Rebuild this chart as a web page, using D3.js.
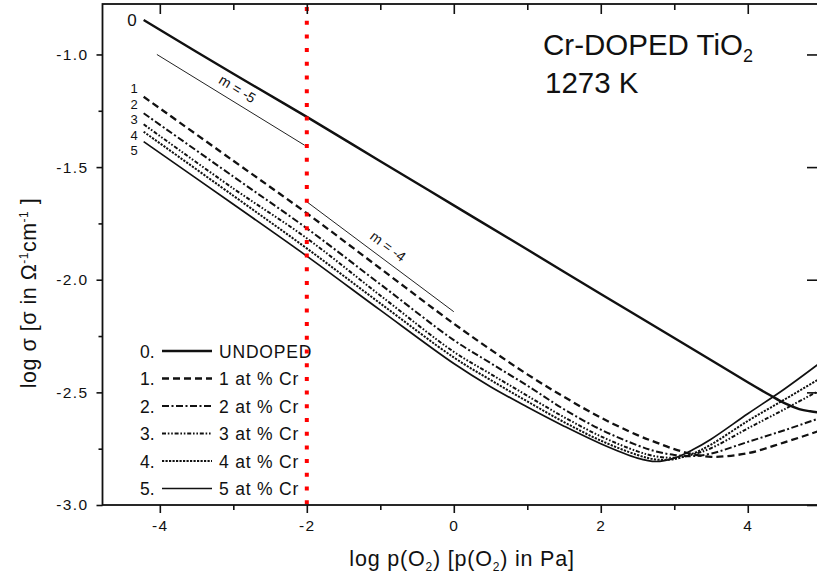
<!DOCTYPE html>
<html><head><meta charset="utf-8">
<script src="https://cdn.jsdelivr.net/npm/d3@7"></script>
<style>
html,body{margin:0;padding:0;background:#fff;}
text{font-family:"Liberation Sans",Arial,Helvetica,sans-serif;fill:#111;}
</style></head>
<body><svg id="c" width="817" height="581"></svg>
<script>
// ---- data ----
const xGrid = [-4.22, -3, -2, -1, 0, 0.5, 1, 1.5, 2, 2.5, 2.75, 3, 3.25, 3.5, 4, 4.5, 5];
const curve0X = [-4.22, -3, -2, -1, 0, 1, 2, 3, 3.6, 4.0, 4.3, 4.5, 4.7, 4.85, 5.0];
const curve0Y = [-0.847, -1.086, -1.277, -1.474, -1.670, -1.866, -2.063, -2.259, -2.376, -2.455, -2.512, -2.548, -2.574, -2.584, -2.590];
const curve1Y = [-1.188, -1.472, -1.705, -1.950, -2.195, -2.310, -2.420, -2.520, -2.612, -2.690, -2.722, -2.752, -2.774, -2.786, -2.770, -2.722, -2.668];
const curve2Y = [-1.261, -1.542, -1.772, -2.020, -2.268, -2.370, -2.470, -2.575, -2.665, -2.735, -2.762, -2.778, -2.783, -2.772, -2.720, -2.668, -2.612];
const curve3Y = [-1.310, -1.595, -1.816, -2.070, -2.320, -2.418, -2.515, -2.610, -2.695, -2.762, -2.784, -2.790, -2.776, -2.748, -2.660, -2.575, -2.487];
const curve4Y = [-1.343, -1.627, -1.861, -2.105, -2.345, -2.445, -2.540, -2.632, -2.714, -2.778, -2.798, -2.796, -2.772, -2.732, -2.627, -2.532, -2.435];
const curve5Y = [-1.387, -1.665, -1.895, -2.135, -2.372, -2.475, -2.565, -2.650, -2.728, -2.792, -2.807, -2.792, -2.755, -2.708, -2.595, -2.485, -2.365];
const curveNames = ["0", "1", "2", "3", "4", "5"];
const legendLabels = ["UNDOPED", "1 at % Cr", "2 at % Cr", "3 at % Cr", "4 at % Cr", "5 at % Cr"];
const slopeM5X = [-4.04, -2.03], slopeM5Y = [-1.0, -1.403];
const slopeM4X = [-2.0, 0.0], slopeM4Y = [-1.654, -2.142];
const slopeLabels = ["m = -5", "m = -4"];
const markerX = -2;
const xTicks = [-4, -2, 0, 2, 4];
const xMinorTicks = [-3, -1, 1, 3];
const yTicks = [-3.0, -2.5, -2.0, -1.5, -1.0];
const yMinorTicks = [-2.75, -2.25, -1.75, -1.25];

// ---- layout ----
const svg = d3.select("#c");
const L = 102.5, R = 820, T = 4, B = 505;
const x = d3.scaleLinear().domain([-4.78, 4.983]).range([L, R]);
const y = d3.scaleLinear().domain([-3.0, -0.776]).range([B, T]);

svg.append("defs").append("clipPath").attr("id", "clip")
  .append("rect").attr("x", L).attr("y", T).attr("width", R - L).attr("height", B - T);

const styles = [
  {w: 2.4, dash: null},
  {w: 2.3, dash: "7,4"},
  {w: 2.0, dash: "7,2.5,2,2.5"},
  {w: 2.0, dash: "4,1.8,1.6,1.8,1.6,1.8"},
  {w: 2.0, dash: "2.2,1.3"},
  {w: 1.7, dash: null}
];

const series = [
  curve0X.map((v, i) => [v, curve0Y[i]]),
  xGrid.map((v, i) => [v, curve1Y[i]]),
  xGrid.map((v, i) => [v, curve2Y[i]]),
  xGrid.map((v, i) => [v, curve3Y[i]]),
  xGrid.map((v, i) => [v, curve4Y[i]]),
  xGrid.map((v, i) => [v, curve5Y[i]])
];

const line = d3.line().x(d => x(d[0])).y(d => y(d[1])).curve(d3.curveCatmullRom.alpha(0.5));
const plot = svg.append("g").attr("clip-path", "url(#clip)");

series.forEach((s, i) => {
  plot.append("path").datum(s).attr("d", line)
    .attr("fill", "none").attr("stroke", "#111")
    .attr("stroke-width", styles[i].w)
    .attr("stroke-dasharray", styles[i].dash);
});

// slope guide lines
const guides = [
  {xs: slopeM5X, ys: slopeM5Y, label: slopeLabels[0]},
  {xs: slopeM4X, ys: slopeM4Y, label: slopeLabels[1]}
];
guides.forEach(g => {
  const x1 = x(g.xs[0]), y1 = y(g.ys[0]), x2 = x(g.xs[1]), y2 = y(g.ys[1]);
  plot.append("line").attr("x1", x1).attr("y1", y1).attr("x2", x2).attr("y2", y2)
    .attr("stroke", "#222").attr("stroke-width", 1);
  const ang = Math.atan2(y2 - y1, x2 - x1) * 180 / Math.PI;
  const mx = (x1 + x2) / 2, my = (y1 + y2) / 2;
  const rad = ang * Math.PI / 180;
  const off = -8;
  const lx = mx - Math.sin(rad) * off, ly = my + Math.cos(rad) * off;
  svg.append("text").attr("transform", `translate(${lx},${ly}) rotate(${ang})`)
    .attr("text-anchor", "middle").attr("font-size", 14).text(g.label);
});

// red dotted marker line
svg.append("line").attr("x1", x(markerX)).attr("x2", x(markerX))
  .attr("y1", T + 3).attr("y2", B)
  .attr("stroke", "#ff0000").attr("stroke-width", 4).attr("stroke-dasharray", "4,9.7");

// frame
svg.append("rect").attr("x", L).attr("y", T).attr("width", R - L).attr("height", B - T)
  .attr("fill", "none").attr("stroke", "#111").attr("stroke-width", 1.8);

// axes
const fmtX = d => String(d);
const fmtY = d => d.toFixed(1);
svg.append("g").attr("transform", `translate(0,${B})`)
  .call(d3.axisBottom(x).tickValues(xTicks).tickSize(8).tickPadding(7).tickFormat(fmtX));
svg.append("g").attr("transform", `translate(0,${B})`)
  .call(d3.axisBottom(x).tickValues(xMinorTicks).tickSize(5).tickFormat(""));
svg.append("g").attr("transform", `translate(0,${T})`)
  .call(d3.axisBottom(x).tickValues(xTicks).tickSize(10).tickFormat(""));
svg.append("g").attr("transform", `translate(0,${T})`)
  .call(d3.axisBottom(x).tickValues(xMinorTicks).tickSize(6).tickFormat(""));
svg.append("g").attr("transform", `translate(${L},0)`)
  .call(d3.axisLeft(y).tickValues(yTicks).tickSize(6).tickPadding(8).tickFormat(fmtY));
svg.append("g").attr("transform", `translate(${L},0)`)
  .call(d3.axisLeft(y).tickValues(yMinorTicks).tickSize(4).tickFormat(""));
svg.append("g").attr("transform", `translate(${R},0)`)
  .call(d3.axisLeft(y).tickValues(yTicks).tickSize(13).tickFormat(""));
svg.selectAll(".domain").remove();
svg.selectAll(".tick line").attr("stroke", "#111").attr("stroke-width", 1.6);
svg.selectAll(".tick text").attr("font-size", 15.5)
  .style("letter-spacing", "1.4px")
  .attr("font-family", "'Liberation Sans',Arial,sans-serif").attr("fill", "#111");

// axis titles
const yt = svg.append("text").attr("transform", "translate(36,293) rotate(-90)")
  .attr("text-anchor", "middle").attr("font-size", 21.5).style("letter-spacing", "0.5px");
yt.append("tspan").text("log σ  [σ in Ω");
yt.append("tspan").attr("dy", -8).attr("font-size", 12).text("-1");
yt.append("tspan").attr("dy", 8).text("cm");
yt.append("tspan").attr("dy", -8).attr("font-size", 12).text("-1");
yt.append("tspan").attr("dy", 8).text(" ]");

const xt = svg.append("text").attr("x", 462).attr("y", 566).attr("text-anchor", "middle")
  .attr("font-size", 21.5).style("letter-spacing", "0.8px");
xt.append("tspan").text("log p(O");
xt.append("tspan").attr("dy", 5).attr("font-size", 12).text("2");
xt.append("tspan").attr("dy", -5).text(") [p(O");
xt.append("tspan").attr("dy", 5).attr("font-size", 12).text("2");
xt.append("tspan").attr("dy", -5).text(") in Pa]");

// title
const tt = svg.append("text").attr("x", 543).attr("y", 55).attr("font-size", 29.5);
tt.append("tspan").text("Cr-DOPED TiO");
tt.append("tspan").attr("dy", 7).attr("font-size", 18).text("2");
svg.append("text").attr("x", 545).attr("y", 93).attr("font-size", 29.5).text("1273 K");

// curve number labels at line starts
svg.append("text").attr("x", 132).attr("y", 26).attr("text-anchor", "middle")
  .attr("font-size", 17).text(curveNames[0]);
const labelY = [88, 103.5, 119, 134.5, 150];
curveNames.slice(1).forEach((n, i) => {
  svg.append("text").attr("x", 134).attr("y", labelY[i] + 5)
    .attr("text-anchor", "middle").attr("font-size", 13).text(n);
});

// legend
const lg = svg.append("g");
legendLabels.forEach((lab, i) => {
  const cy = 351 + i * 27.5;
  lg.append("text").attr("x", 140).attr("y", cy + 6.5).attr("font-size", 17.5).text(curveNames[i] + ".");
  lg.append("line").attr("x1", 162).attr("x2", 212).attr("y1", cy).attr("y2", cy)
    .attr("stroke", "#111").attr("stroke-width", styles[i].w)
    .attr("stroke-dasharray", styles[i].dash);
  lg.append("text").attr("x", 219).attr("y", cy + 6.5).attr("font-size", 17.5)
    .style("letter-spacing", "0.8px").text(lab);
});
</script></body></html>
